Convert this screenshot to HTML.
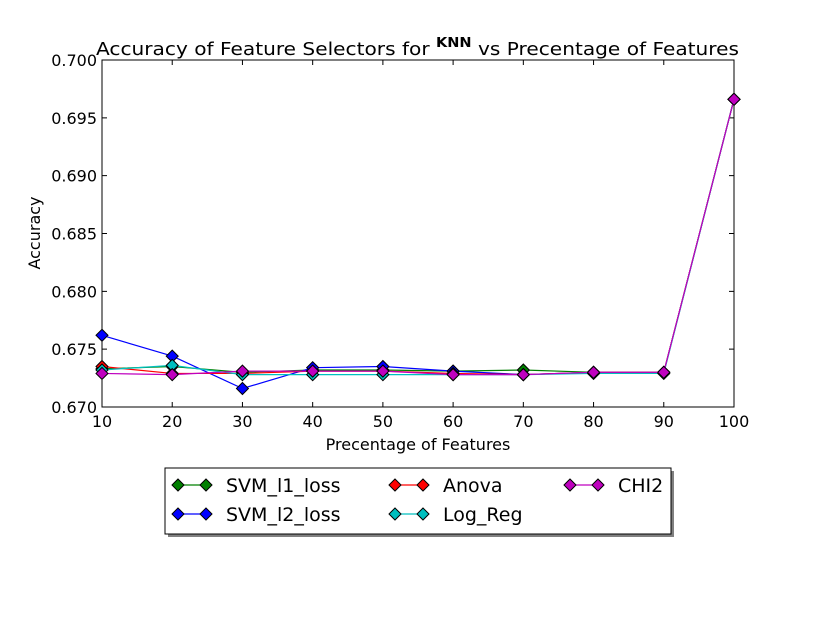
<!DOCTYPE html>
<html><head><meta charset="utf-8"><style>
body{margin:0;background:#fff;font-family:"DejaVu Sans","Liberation Sans",sans-serif}
</style></head><body>
<svg id="chart" width="815" height="615" xmlns="http://www.w3.org/2000/svg" font-family="DejaVu Sans, Liberation Sans, sans-serif">
<rect width="815" height="615" fill="#fff"/>
<text x="96" y="55" font-size="18" textLength="643" lengthAdjust="spacingAndGlyphs">Accuracy of Feature Selectors for <tspan font-size="13" font-weight="bold" dy="-8">KNN</tspan><tspan dy="8"> vs Precentage of Features</tspan></text>
<g id="axes"></g>
<g id="series"></g>
<text x="418" y="450" font-size="16" text-anchor="middle">Precentage of Features</text>
<text x="40" y="233" font-size="16" text-anchor="middle" transform="rotate(-90 40 233)">Accuracy</text>
<g>
<rect x="168" y="471" width="506" height="66" fill="#808080"/>
<rect x="165" y="468" width="506" height="66" fill="#fff" stroke="#000"/>
<g id="legend"></g>
</g>
</svg>
<script>
const categories=[10,20,30,40,50,60,70,80,90,100];
const svmL1=[0.6733,0.6735,0.6730,0.6732,0.6732,0.6731,0.6732,0.6730,0.6730,0.6966];
const svmL2=[0.6762,0.6744,0.6716,0.6734,0.6735,0.6731,0.6728,0.6730,0.6730,0.6966];
const anova=[0.6735,0.6729,0.6729,0.6731,0.6731,0.6729,0.6728,0.6730,0.6730,0.6966];
const logReg=[0.6732,0.6736,0.6728,0.6728,0.6728,0.6728,0.6728,0.6729,0.6729,0.6966];
const chi2=[0.6729,0.6728,0.6731,0.6731,0.6731,0.6728,0.6728,0.6730,0.6730,0.6966];
const yTicks=[0.670,0.675,0.680,0.685,0.690,0.695,0.700];
const seriesNames=["SVM_l1_loss","SVM_l2_loss","Anova","Log_Reg","CHI2"];
const seriesColors=["#008000","#0000ff","#ff0000","#00bfbf","#bf00bf"];
const seriesData=[svmL1,svmL2,anova,logReg,chi2];
const NS="http://www.w3.org/2000/svg";
const L=102,R=734,T=60,B=407;
const xS=v=>L+(v-10)/90*(R-L);
const yS=v=>B-(v-0.670)/0.030*(B-T);
function mk(tag,attrs,parent){const e=document.createElementNS(NS,tag);for(const k in attrs)e.setAttribute(k,attrs[k]);parent.appendChild(e);return e;}
const ax=document.getElementById('axes');
let f=mk('rect',{x:L,y:T,width:R-L,height:B-T,fill:'none',stroke:'#000'},ax);


categories.forEach(c=>{const x=xS(c);
let t=mk('path',{d:`M${x} ${B}v-5M${x} ${T}v5`,stroke:'#000'},ax);


let l=mk('text',{x:x,y:B+20,'font-size':16,'text-anchor':'middle'},ax);l.textContent=c;

});
yTicks.forEach(v=>{const y=yS(v);
let t=mk('path',{d:`M${L} ${y}h5M${R} ${y}h-5`,stroke:'#000'},ax);


let l=mk('text',{x:L-5,y:y+6,'font-size':16,'text-anchor':'end'},ax);l.textContent=v.toFixed(3);

});
const sg=document.getElementById('series');
function diamond(g,x,y,c){let d=mk('path',{d:`M${x} ${y-6}L${x+6} ${y}L${x} ${y+6}L${x-6} ${y}Z`,fill:c,stroke:'#000','stroke-width':1},g);

}
seriesData.forEach((arr,i)=>{const g=mk('g',{},sg);


let p=mk('polyline',{points:arr.map((v,j)=>xS(categories[j])+','+yS(v)).join(' '),fill:'none',stroke:seriesColors[i],'stroke-width':1.2},g);


arr.forEach((v,j)=>diamond(g,xS(categories[j]),yS(v),seriesColors[i]));});
const lg=document.getElementById('legend');
const pos=[[178,485],[178,514],[395,485],[395,514],[570,485]];
seriesNames.forEach((n,i)=>{const [x,y]=pos[i];const g=mk('g',{},lg);


mk('line',{x1:x,y1:y,x2:x+28,y2:y,stroke:seriesColors[i],'stroke-width':1.2},g);
diamond(g,x,y,seriesColors[i]);diamond(g,x+28,y,seriesColors[i]);
let t=mk('text',{x:x+48,y:y+7,'font-size':19},g);t.textContent=n;

});
</script>
</body></html>
